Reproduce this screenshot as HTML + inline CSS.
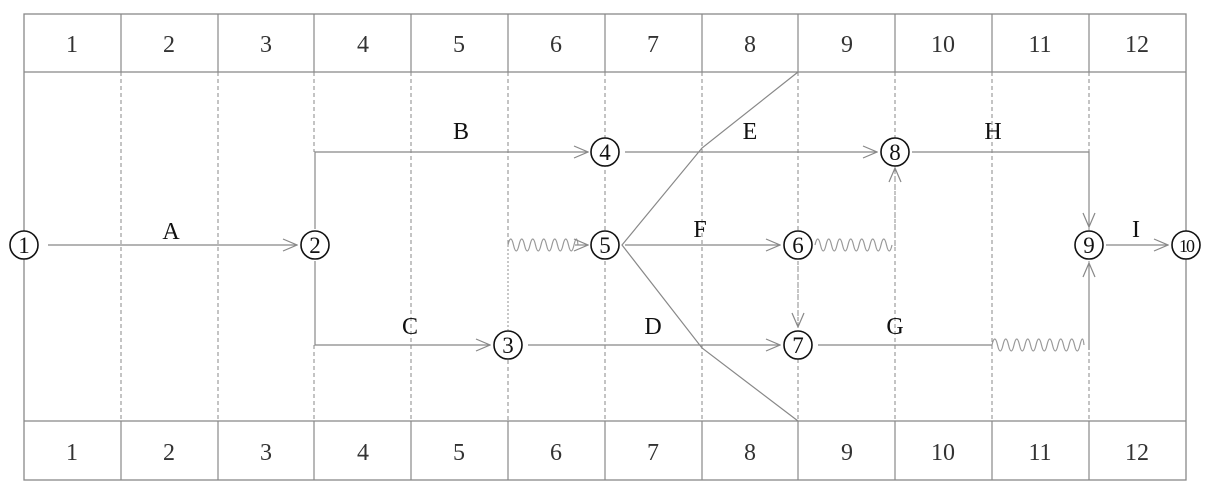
<!DOCTYPE html>
<html><head><meta charset="utf-8"><style>
html,body{margin:0;padding:0;background:#fff;}
svg{display:block;}
text{font-family:"Liberation Serif","Noto Serif CJK SC",serif;}
</style></head><body>
<svg width="1220" height="499" viewBox="0 0 1220 499" xmlns="http://www.w3.org/2000/svg">
<defs>
<marker id="ar" markerWidth="16" markerHeight="14" refX="15" refY="7" orient="auto" markerUnits="userSpaceOnUse">
<path d="M1,1 L15,7 L1,13" fill="none" stroke="#888" stroke-width="1.2"/>
</marker>
</defs>
<g stroke="#888" stroke-width="1.3" fill="none">
<rect x="24" y="14" width="1162" height="466"/>
<line x1="24" y1="72" x2="1186" y2="72"/>
<line x1="24" y1="421" x2="1186" y2="421"/>
</g>
<g stroke="#888" stroke-width="1.2">
<line x1="121" y1="14" x2="121" y2="72"/><line x1="218" y1="14" x2="218" y2="72"/><line x1="314" y1="14" x2="314" y2="72"/><line x1="411" y1="14" x2="411" y2="72"/><line x1="508" y1="14" x2="508" y2="72"/><line x1="605" y1="14" x2="605" y2="72"/><line x1="702" y1="14" x2="702" y2="72"/><line x1="798" y1="14" x2="798" y2="72"/><line x1="895" y1="14" x2="895" y2="72"/><line x1="992" y1="14" x2="992" y2="72"/><line x1="1089" y1="14" x2="1089" y2="72"/>
<line x1="121" y1="421" x2="121" y2="480"/><line x1="218" y1="421" x2="218" y2="480"/><line x1="314" y1="421" x2="314" y2="480"/><line x1="411" y1="421" x2="411" y2="480"/><line x1="508" y1="421" x2="508" y2="480"/><line x1="605" y1="421" x2="605" y2="480"/><line x1="702" y1="421" x2="702" y2="480"/><line x1="798" y1="421" x2="798" y2="480"/><line x1="895" y1="421" x2="895" y2="480"/><line x1="992" y1="421" x2="992" y2="480"/><line x1="1089" y1="421" x2="1089" y2="480"/>
</g>
<g stroke="#888" stroke-width="1" stroke-dasharray="4,3">
<line x1="121" y1="72" x2="121" y2="421"/><line x1="218" y1="72" x2="218" y2="421"/><line x1="314" y1="72" x2="314" y2="152"/><line x1="314" y1="345" x2="314" y2="421"/><line x1="411" y1="72" x2="411" y2="421"/><line x1="508" y1="72" x2="508" y2="245"/><line x1="508" y1="360" x2="508" y2="421"/><line x1="605" y1="72" x2="605" y2="421"/><line x1="702" y1="72" x2="702" y2="421"/><line x1="798" y1="72" x2="798" y2="421"/><line x1="895" y1="72" x2="895" y2="421"/><line x1="992" y1="72" x2="992" y2="421"/><line x1="1089" y1="72" x2="1089" y2="421"/>
</g>
<g font-size="24" fill="#333" text-anchor="middle">
<text x="72" y="52">1</text><text x="169" y="52">2</text><text x="266" y="52">3</text><text x="363" y="52">4</text><text x="459" y="52">5</text><text x="556" y="52">6</text><text x="653" y="52">7</text><text x="750" y="52">8</text><text x="847" y="52">9</text><text x="943" y="52">10</text><text x="1040" y="52">11</text><text x="1137" y="52">12</text>
<text x="72" y="460">1</text><text x="169" y="460">2</text><text x="266" y="460">3</text><text x="363" y="460">4</text><text x="459" y="460">5</text><text x="556" y="460">6</text><text x="653" y="460">7</text><text x="750" y="460">8</text><text x="847" y="460">9</text><text x="943" y="460">10</text><text x="1040" y="460">11</text><text x="1137" y="460">12</text>
</g>
<g stroke="#888" stroke-width="1.2" fill="none">
<line x1="48" y1="245" x2="297" y2="245" marker-end="url(#ar)"/>
<polyline points="315,229 315,152 588,152" marker-end="url(#ar)"/>
<polyline points="315,261 315,345 490,345" marker-end="url(#ar)"/>
<line x1="625" y1="152" x2="877" y2="152" marker-end="url(#ar)"/>
<line x1="625" y1="245" x2="780" y2="245" marker-end="url(#ar)"/>
<line x1="528" y1="345" x2="780" y2="345" marker-end="url(#ar)"/>
<polyline points="912,152 1089,152 1089,227" marker-end="url(#ar)"/>
<line x1="1106" y1="245" x2="1168" y2="245" marker-end="url(#ar)"/>
<line x1="818" y1="345" x2="992" y2="345"/>
<line x1="1089" y1="350" x2="1089" y2="263" marker-end="url(#ar)"/>
<polyline points="798,72 702,148 622,245 702,348 798,421"/>
<path d="M508,245 q2.75,-12 5.5,0 t5.5,0 t5.5,0 t5.5,0 t5.5,0 t5.5,0 t5.5,0 t5.5,0 t5.5,0 t5.5,0 t5.5,0 t5.5,0 t4,0" stroke="#999"/>
<line x1="575" y1="245" x2="588" y2="245" marker-end="url(#ar)"/>
<path d="M815,245 q2.75,-12 5.5,0 t5.5,0 t5.5,0 t5.5,0 t5.5,0 t5.5,0 t5.5,0 t5.5,0 t5.5,0 t5.5,0 t5.5,0 t5.5,0 t5.5,0 t5.5,0" stroke="#999"/>
<path d="M992,345 q2.75,-12 5.5,0 t5.5,0 t5.5,0 t5.5,0 t5.5,0 t5.5,0 t5.5,0 t5.5,0 t5.5,0 t5.5,0 t5.5,0 t5.5,0 t5.5,0 t5.5,0 t5.5,0 t5.5,0 t4,0" stroke="#999"/>
</g>
<g stroke="#999" stroke-width="1.1" stroke-dasharray="2,2" fill="none">
<line x1="508" y1="245" x2="508" y2="330"/>
<line x1="895" y1="250" x2="895" y2="168" marker-end="url(#ar)"/>
<line x1="798" y1="262" x2="798" y2="327" marker-end="url(#ar)"/>
</g>
<g stroke="#111" stroke-width="1.6" fill="#fff">
<circle cx="24" cy="245" r="14"/><circle cx="315" cy="245" r="14"/><circle cx="508" cy="345" r="14"/><circle cx="605" cy="152" r="14"/><circle cx="605" cy="245" r="14"/><circle cx="798" cy="245" r="14"/><circle cx="798" cy="345" r="14"/><circle cx="895" cy="152" r="14"/><circle cx="1089" cy="245" r="14"/><circle cx="1186" cy="245" r="14"/>
</g>
<g font-size="23" fill="#111" text-anchor="middle">
<text x="24" y="253">1</text><text x="315" y="253">2</text><text x="508" y="353">3</text><text x="605" y="160">4</text><text x="605" y="253">5</text><text x="798" y="253">6</text><text x="798" y="353">7</text><text x="895" y="160">8</text><text x="1089" y="253">9</text><text x="1186" y="252" font-size="18" letter-spacing="-2">10</text>
</g>
<g font-size="24" fill="#111" text-anchor="middle">
<text x="171" y="239">A</text><text x="461" y="139">B</text><text x="410" y="334">C</text><text x="653" y="334">D</text><text x="750" y="139">E</text><text x="700" y="237">F</text><text x="895" y="334">G</text><text x="993" y="139">H</text><text x="1136" y="237">I</text>
</g>
</svg>
</body></html>
